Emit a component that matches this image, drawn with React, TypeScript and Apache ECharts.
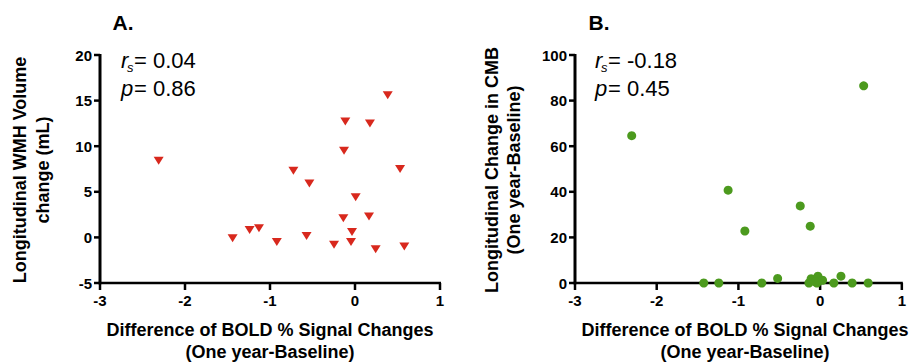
import React, { useEffect, useRef } from "react";
import * as echarts from "echarts";

// Panel A: WMH volume change vs BOLD difference
const wmhX = [-2.31, 0.385, -0.114, 0.176, -0.129, -0.725, 0.53, -0.537, 0.008, -0.137, 0.165, -1.24, -1.13, -1.44, -0.92, -0.57, -0.035, -0.047, -0.247, 0.243, 0.58];
const wmhY = [8.4, 15.6, 12.7, 12.5, 9.5, 7.3, 7.5, 5.9, 4.4, 2.1, 2.3, 0.8, 1.0, -0.1, -0.5, 0.15, 0.6, -0.5, -0.8, -1.3, -1.0];

// Panel B: CMB change vs BOLD difference
const cmbX = [-2.306, 0.533, -1.126, -0.921, -0.243, -0.121, -1.424, -1.24, -0.714, -0.52, -0.137, -0.11, -0.027, -0.039, -0.06, 0.03, 0.168, 0.255, 0.392, 0.588];
const cmbY = [64.6, 86.5, 40.7, 22.8, 33.8, 24.9, 0, 0, 0, 2, 0, 1.9, 3, 0, 0.5, 1.2, 0, 3, 0, 0];

const xTicks = { min: -3, max: 1, interval: 1 };
const yTicksA = { min: -5, max: 20, interval: 5 };
const yTicksB = { min: 0, max: 100, interval: 20 };

const statsA = { rs: "= 0.04", p: "= 0.86" };
const statsB = { rs: "= -0.18", p: "= 0.45" };

const xTitle1 = "Difference of BOLD % Signal Changes";
const xTitle2 = "(One year-Baseline)";
const yTitleA = ["Longitudinal WMH Volume", "change (mL)"];
const yTitleB = ["Longitudinal Change in CMB", "(One year-Baseline)"];

const FONT = "'Liberation Sans', Arial, Helvetica, sans-serif";

export default function App() {
  const ref = useRef<HTMLDivElement>(null);
  useEffect(() => {
    if (!ref.current) return;
    const chart = echarts.init(ref.current, null, { renderer: "svg" });
    const label = { color: "#000", fontWeight: "bold", fontSize: 15, fontFamily: FONT };
    const xAxisBase = (gridIndex: number) => ({
      type: "value",
      gridIndex,
      min: xTicks.min,
      max: xTicks.max,
      interval: xTicks.interval,
      axisLine: { show: false, onZero: false },
      axisTick: { show: false },
      axisLabel: { ...label, margin: 10 },
      splitLine: { show: false },
    });
    const yAxisBase = (gridIndex: number, t: any) => ({
      type: "value",
      gridIndex,
      min: t.min,
      max: t.max,
      interval: t.interval,
      axisLine: { show: false, onZero: false },
      axisTick: { show: false },
      axisLabel: { ...label, margin: 8 },
      splitLine: { show: false },
    });
    const txt = (x: number, y: number, text: string, size: number, extra: any = {}, rot = 0) => ({
      type: "text",
      x,
      y,
      rotation: rot,
      style: {
        text,
        fontSize: size,
        fontFamily: FONT,
        fill: "#000",
        textAlign: "left",
        textVerticalAlign: "middle",
        ...extra,
      },
    });
    const stat = (x: number, y1: number, y2: number, s: { rs: string; p: string }) => [
      txt(x, y1, "r", 22, { fontStyle: "italic" }),
      txt(x + 6, y1 + 7, "s", 13, { fontStyle: "italic" }),
      txt(x + 13, y1, s.rs, 22),
      txt(x, y2, "p", 22, { fontStyle: "italic" }),
      txt(x + 13, y2, s.p, 22),
    ];
    const bold = { fontWeight: "bold", textAlign: "center" };
    chart.setOption({
      animation: false,
      grid: [
        { left: 100, top: 55, width: 340, height: 228 },
        { left: 575, top: 55, width: 340, height: 228 },
      ],
      xAxis: [xAxisBase(0), xAxisBase(1)],
      yAxis: [yAxisBase(0, yTicksA), yAxisBase(1, yTicksB)],
      series: [
        {
          type: "scatter",
          xAxisIndex: 0,
          yAxisIndex: 0,
          symbol: "triangle",
          symbolRotate: 180,
          symbolSize: [10, 8],
          itemStyle: { color: "#d8281d", opacity: 1 },
          data: wmhX.map((x, i) => [x, wmhY[i]]),
        },
        {
          type: "scatter",
          xAxisIndex: 1,
          yAxisIndex: 1,
          symbol: "circle",
          symbolSize: 9,
          itemStyle: { color: "#4c9a1e", opacity: 1 },
          data: cmbX.map((x, i) => [x, cmbY[i]]),
        },
      ],
    });

    // Axis lines and ticks, placed through the chart's own scales
    const seg = (x1: number, y1: number, x2: number, y2: number, w: number) => ({
      type: "line",
      z: 1,
      shape: { x1, y1, x2, y2 },
      style: { stroke: "#000", lineWidth: w },
    });
    const axesFor = (g: number, yt: { min: number; max: number; interval: number }) => {
      const out: any[] = [];
      const p = (x: number, y: number) => chart.convertToPixel({ gridIndex: g } as any, [x, y]) as number[];
      const o = p(xTicks.min, yt.min);
      const xe = p(xTicks.max, yt.min);
      const ye = p(xTicks.min, yt.max);
      out.push(seg(o[0] - 1.5, o[1], xe[0] + 1, o[1], 2.5));
      out.push(seg(o[0], ye[1] - 1, o[0], o[1] + 1.2, 3));
      for (let v = xTicks.min; v <= xTicks.max + 1e-9; v += xTicks.interval) {
        const q = p(v, yt.min);
        out.push(seg(q[0], q[1], q[0], q[1] + 7, 2.5));
      }
      for (let v = yt.min; v <= yt.max + 1e-9; v += yt.interval) {
        const q = p(xTicks.min, v);
        out.push(seg(q[0] - 6, q[1], q[0], q[1], 2.5));
      }
      return out;
    };

    chart.setOption({
      graphic: [
        ...axesFor(0, yTicksA),
        ...axesFor(1, yTicksB),
        txt(123, 22, "A.", 21, bold),
        txt(599, 22, "B.", 21, bold),
        ...stat(121, 60, 88, statsA),
        ...stat(595, 60, 88, statsB),
        txt(270, 330, xTitle1, 18, bold),
        txt(270, 352, xTitle2, 18, bold),
        txt(745, 330, xTitle1, 18, bold),
        txt(745, 352, xTitle2, 18, bold),
        txt(20, 170, yTitleA[0], 18, bold, Math.PI / 2),
        txt(43, 170, yTitleA[1], 18, bold, Math.PI / 2),
        txt(492, 170, yTitleB[0], 18, bold, Math.PI / 2),
        txt(514, 170, yTitleB[1], 18, bold, Math.PI / 2),
      ],
    });
    return () => chart.dispose();
  }, []);
  return <div ref={ref} style={{ position: "absolute", left: 0, top: 0, width: 909, height: 363 }} />;
}
